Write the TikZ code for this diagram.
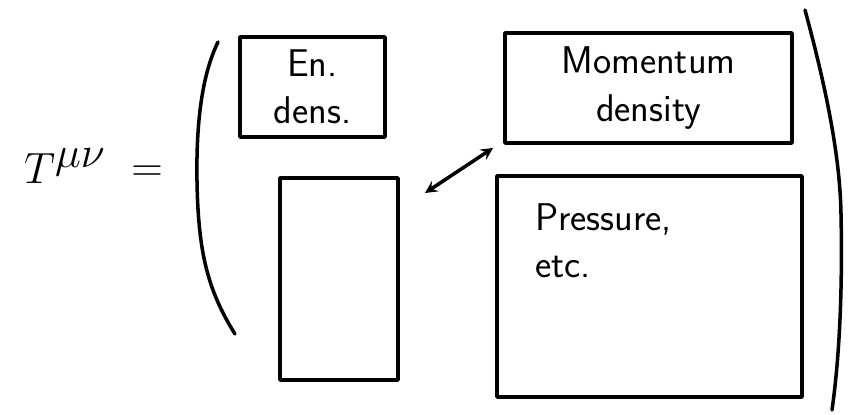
\documentclass[tikz,border=0pt]{standalone}
\usepackage{amsmath}
\usepackage{tikz}
\usetikzlibrary{arrows,arrows.meta}
\usetikzlibrary{positioning}

\begin{document}
\begin{tikzpicture}[>=stealth, line width=2pt, line cap=round, line join=round,
	cell/.style={draw, inner sep=0pt, align=center, font=\sffamily\fontsize{22}{27}\selectfont},
	txt/.style={inner sep=0pt, align=left, font=\sffamily\fontsize{22}{27}\selectfont}]

	\useasboundingbox (0,0) rectangle (17,8.28);

	\node (T) at (1.3,4.95) {\fontsize{38}{40}\selectfont $T^{\mu\nu}$};
	\node (eq) at (2.94,4.8) {\fontsize{30}{34}\selectfont $=$};

	% left and right bracket
	\draw (4.36,7.44) .. controls (4.0,6.7) and (3.9,5.6) .. (3.95,4.3)
		.. controls (4.0,3.1) and (4.2,2.4) .. (4.7,1.6);
	\draw (16.1,8.08) .. controls (16.5,6.6) and (16.8,5.2) .. (16.82,4.0)
		.. controls (16.85,2.6) and (16.8,1.2) .. (16.64,0.08);

	\node[cell, minimum width=2.9cm, minimum height=2cm] (en) at (6.25,6.54) {En.\\dens.};
	\node[cell, minimum width=2.36cm, minimum height=4.04cm] (col) at (6.78,2.7) {};
	\node[cell, minimum width=5.74cm, minimum height=2.2cm] (mom) at (12.97,6.52) {Momentum\\density};
	\node[cell, minimum width=6.1cm, minimum height=4.42cm] (pr) at (12.99,2.55) {};
	\node[txt, anchor=north west] (prtxt) at ([xshift=0.76cm,yshift=-0.55cm]pr.north west) {Pressure,\\etc.};

	% symmetry arrow
	\coordinate (a1) at (8.5,4.42);
	\coordinate (a2) at (9.86,5.32);
	\draw[<->] (a1) -- (a2);
\end{tikzpicture}
\end{document}
